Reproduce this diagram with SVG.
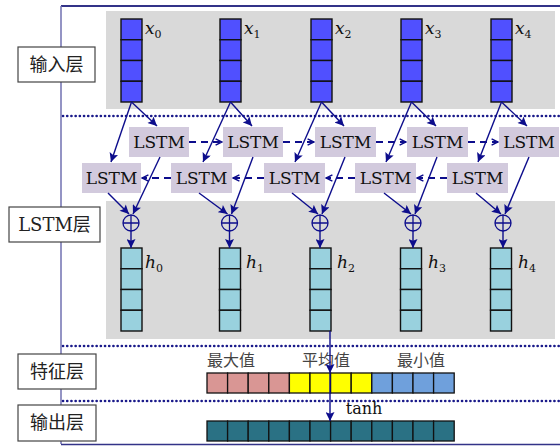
<svg xmlns="http://www.w3.org/2000/svg" width="560" height="446" viewBox="0 0 560 446">
<defs>
<style>
.panel{fill:#d9d9d9}
.xin{fill:#5050ff;stroke:#111;stroke-width:1.4}
.hc{fill:#99d1de;stroke:#111;stroke-width:1.4}
.lstm{fill:#d2cadd}
.lt{font-family:'DejaVu Serif',serif;font-size:17px;fill:#111;text-anchor:middle}
.var{font-family:'DejaVu Serif',serif;font-style:italic;font-size:17px;fill:#111}
.sub{font-size:11px;font-style:normal}
.lab{fill:#fff;stroke:#444;stroke-width:1.2}
.labt{font-family:'DejaVu Serif','Noto Sans CJK SC',serif;font-size:18px;fill:#222;text-anchor:middle}
.ft{font-family:'Noto Sans CJK SC',sans-serif;font-size:16px;fill:#444}
.dot{stroke:#1a1a8a;stroke-width:2.6;stroke-dasharray:0.1 4.1;stroke-linecap:round;fill:none}
.arr{stroke:#0d0d8c;stroke-width:1.4;fill:none;marker-end:url(#ah)}
.dash{stroke:#0d0d8c;stroke-width:2;stroke-dasharray:7 5;fill:none;marker-end:url(#ch)}
.circ{fill:none;stroke:#0d0d8c;stroke-width:1.3}
.cell{stroke:#111;stroke-width:1.3}
</style>
<marker id="ah" viewBox="0 0 10 10" refX="10" refY="5" markerWidth="10" markerHeight="9" markerUnits="userSpaceOnUse" orient="auto"><path d="M0,0 L10,5 L0,10 L2,5 z" fill="#0d0d8c"/></marker>
<marker id="ch" viewBox="0 0 10 10" refX="9" refY="5" markerWidth="8" markerHeight="9" markerUnits="userSpaceOnUse" orient="auto"><path d="M1,1 L9,5 L1,9" fill="none" stroke="#0d0d8c" stroke-width="1.8"/></marker>
</defs>
<rect width="560" height="446" fill="#fff"/>
<!-- frame -->
<g id="frame">
<line x1="61" y1="6" x2="560" y2="6" stroke="#333388" stroke-width="2"/>
<line x1="61" y1="6" x2="61" y2="444" stroke="#7070b0" stroke-width="1.5"/>
<line x1="61" y1="444.5" x2="560" y2="444.5" stroke="#333388" stroke-width="1.5"/>
<rect class="panel" x="106" y="11" width="449" height="98"/>
<rect class="panel" x="106" y="201" width="449" height="138"/>
<line class="dot" x1="63" y1="116" x2="560" y2="116"/>
<line class="dot" x1="63" y1="346" x2="560" y2="346"/>
<line class="dot" x1="63" y1="401" x2="560" y2="401"/>
</g>
<!-- layer labels -->
<g id="label-input"><rect class="lab" x="18" y="47" width="77" height="35"/><text class="labt" x="56.5" y="71">输入层</text></g>
<g id="label-lstm"><rect class="lab" x="9" y="207" width="91" height="35"/><text class="labt" x="54.5" y="231">LSTM层</text></g>
<g id="label-feature"><rect class="lab" x="18" y="354" width="78" height="35"/><text class="labt" x="57" y="378">特征层</text></g>
<g id="label-output"><rect class="lab" x="18" y="405" width="78" height="36"/><text class="labt" x="57" y="429">输出层</text></g>
<!-- inputs -->
<g id="x0"><rect class="xin" x="121" y="19" width="21" height="20.75"/><rect class="xin" x="121" y="39.75" width="21" height="20.75"/><rect class="xin" x="121" y="60.5" width="21" height="20.75"/><rect class="xin" x="121" y="81.25" width="21" height="20.75"/><text class="var" x="145" y="34">x<tspan class="sub" dy="4">0</tspan></text></g>
<g id="x1"><rect class="xin" x="220" y="19" width="21" height="20.75"/><rect class="xin" x="220" y="39.75" width="21" height="20.75"/><rect class="xin" x="220" y="60.5" width="21" height="20.75"/><rect class="xin" x="220" y="81.25" width="21" height="20.75"/><text class="var" x="244" y="34">x<tspan class="sub" dy="4">1</tspan></text></g>
<g id="x2"><rect class="xin" x="311" y="19" width="21" height="20.75"/><rect class="xin" x="311" y="39.75" width="21" height="20.75"/><rect class="xin" x="311" y="60.5" width="21" height="20.75"/><rect class="xin" x="311" y="81.25" width="21" height="20.75"/><text class="var" x="335" y="34">x<tspan class="sub" dy="4">2</tspan></text></g>
<g id="x3"><rect class="xin" x="401" y="19" width="21" height="20.75"/><rect class="xin" x="401" y="39.75" width="21" height="20.75"/><rect class="xin" x="401" y="60.5" width="21" height="20.75"/><rect class="xin" x="401" y="81.25" width="21" height="20.75"/><text class="var" x="425" y="34">x<tspan class="sub" dy="4">3</tspan></text></g>
<g id="x4"><rect class="xin" x="491" y="19" width="21" height="20.75"/><rect class="xin" x="491" y="39.75" width="21" height="20.75"/><rect class="xin" x="491" y="60.5" width="21" height="20.75"/><rect class="xin" x="491" y="81.25" width="21" height="20.75"/><text class="var" x="515" y="34">x<tspan class="sub" dy="4">4</tspan></text></g>
<!-- LSTM forward row -->
<g id="lstm-f0"><rect class="lstm" x="129" y="127" width="60" height="30"/><text class="lt" x="159" y="148">LSTM</text></g>
<g id="lstm-f1"><rect class="lstm" x="223" y="127" width="60" height="30"/><text class="lt" x="253" y="148">LSTM</text></g>
<g id="lstm-f2"><rect class="lstm" x="315" y="127" width="61" height="30"/><text class="lt" x="345.5" y="148">LSTM</text></g>
<g id="lstm-f3"><rect class="lstm" x="407" y="127" width="61" height="30"/><text class="lt" x="437.5" y="148">LSTM</text></g>
<g id="lstm-f4"><rect class="lstm" x="499" y="127" width="60" height="30"/><text class="lt" x="529" y="148">LSTM</text></g>
<!-- LSTM backward row -->
<g id="lstm-b0"><rect class="lstm" x="82" y="163" width="59" height="30"/><text class="lt" x="111.5" y="184">LSTM</text></g>
<g id="lstm-b1"><rect class="lstm" x="171" y="163" width="61" height="30"/><text class="lt" x="201.5" y="184">LSTM</text></g>
<g id="lstm-b2"><rect class="lstm" x="264" y="163" width="61" height="30"/><text class="lt" x="294.5" y="184">LSTM</text></g>
<g id="lstm-b3"><rect class="lstm" x="355" y="163" width="61" height="30"/><text class="lt" x="385.5" y="184">LSTM</text></g>
<g id="lstm-b4"><rect class="lstm" x="447" y="163" width="61" height="30"/><text class="lt" x="477.5" y="184">LSTM</text></g>
<!-- sum nodes -->
<g id="sum0"><circle class="circ" cx="131" cy="223" r="8"/><path class="circ" d="M123,223 H139 M131,215 V231"/></g>
<g id="sum1"><circle class="circ" cx="229.5" cy="223" r="8"/><path class="circ" d="M221.5,223 H237.5 M229.5,215 V231"/></g>
<g id="sum2"><circle class="circ" cx="320" cy="223" r="8"/><path class="circ" d="M312,223 H328 M320,215 V231"/></g>
<g id="sum3"><circle class="circ" cx="413" cy="223" r="8"/><path class="circ" d="M405,223 H421 M413,215 V231"/></g>
<g id="sum4"><circle class="circ" cx="503" cy="223" r="8"/><path class="circ" d="M495,223 H511 M503,215 V231"/></g>
<!-- hidden outputs -->
<g id="h0"><rect class="hc" x="121" y="248" width="21" height="20.75"/><rect class="hc" x="121" y="268.75" width="21" height="20.75"/><rect class="hc" x="121" y="289.5" width="21" height="20.75"/><rect class="hc" x="121" y="310.25" width="21" height="20.75"/><text class="var" x="145" y="268">h<tspan class="sub" dy="4">0</tspan></text></g>
<g id="h1"><rect class="hc" x="219.5" y="248" width="21" height="20.75"/><rect class="hc" x="219.5" y="268.75" width="21" height="20.75"/><rect class="hc" x="219.5" y="289.5" width="21" height="20.75"/><rect class="hc" x="219.5" y="310.25" width="21" height="20.75"/><text class="var" x="246" y="268">h<tspan class="sub" dy="4">1</tspan></text></g>
<g id="h2"><rect class="hc" x="310" y="248" width="21" height="20.75"/><rect class="hc" x="310" y="268.75" width="21" height="20.75"/><rect class="hc" x="310" y="289.5" width="21" height="20.75"/><rect class="hc" x="310" y="310.25" width="21" height="20.75"/><text class="var" x="337" y="268">h<tspan class="sub" dy="4">2</tspan></text></g>
<g id="h3"><rect class="hc" x="400.5" y="248" width="21" height="20.75"/><rect class="hc" x="400.5" y="268.75" width="21" height="20.75"/><rect class="hc" x="400.5" y="289.5" width="21" height="20.75"/><rect class="hc" x="400.5" y="310.25" width="21" height="20.75"/><text class="var" x="428" y="268">h<tspan class="sub" dy="4">3</tspan></text></g>
<g id="h4"><rect class="hc" x="490.5" y="248" width="21" height="20.75"/><rect class="hc" x="490.5" y="268.75" width="21" height="20.75"/><rect class="hc" x="490.5" y="289.5" width="21" height="20.75"/><rect class="hc" x="490.5" y="310.25" width="21" height="20.75"/><text class="var" x="518" y="268">h<tspan class="sub" dy="4">4</tspan></text></g>
<!-- feature layer -->
<g id="feature">
<text class="ft" x="207" y="366">最大值</text>
<text class="ft" x="302" y="366">平均值</text>
<text class="ft" x="397" y="366">最小值</text>
<g class="cell" fill="#d99694"><rect x="207" y="373" width="20.6" height="20"/><rect x="227.6" y="373" width="20.6" height="20"/><rect x="248.2" y="373" width="20.6" height="20"/><rect x="268.8" y="373" width="20.6" height="20"/></g>
<g class="cell" fill="#ffff00"><rect x="289.4" y="373" width="20.6" height="20"/><rect x="310" y="373" width="20.6" height="20"/><rect x="330.6" y="373" width="20.6" height="20"/><rect x="351.2" y="373" width="20.6" height="20"/></g>
<g class="cell" fill="#6fa0dc"><rect x="371.8" y="373" width="20.6" height="20"/><rect x="392.4" y="373" width="20.6" height="20"/><rect x="413" y="373" width="20.6" height="20"/><rect x="433.6" y="373" width="20.6" height="20"/></g>
</g>
<!-- output layer -->
<g id="output">
<text class="lt" x="364" y="414" style="font-size:16px">tanh</text>
<g class="cell" fill="#2a7184"><rect x="207" y="421" width="20.6" height="20"/><rect x="227.6" y="421" width="20.6" height="20"/><rect x="248.2" y="421" width="20.6" height="20"/><rect x="268.8" y="421" width="20.6" height="20"/><rect x="289.4" y="421" width="20.6" height="20"/><rect x="310" y="421" width="20.6" height="20"/><rect x="330.6" y="421" width="20.6" height="20"/><rect x="351.2" y="421" width="20.6" height="20"/><rect x="371.8" y="421" width="20.6" height="20"/><rect x="392.4" y="421" width="20.6" height="20"/><rect x="413" y="421" width="20.6" height="20"/><rect x="433.6" y="421" width="20.6" height="20"/></g>
</g>
<!-- connectors -->
<g id="connectors">
<path class="arr" d="M131.5,102 L157,126"/><path class="arr" d="M131.5,102 L111,162"/>
<path class="arr" d="M230.5,102 L252,126"/><path class="arr" d="M230.5,102 L203,162"/>
<path class="arr" d="M321.5,102 L344,126"/><path class="arr" d="M321.5,102 L295,162"/>
<path class="arr" d="M411.5,102 L436,126"/><path class="arr" d="M411.5,102 L386,162"/>
<path class="arr" d="M501.5,102 L527,126"/><path class="arr" d="M501.5,102 L478,162"/>
<path class="dash" d="M189,142 L222,142"/><path class="dash" d="M283,142 L314,142"/><path class="dash" d="M376,142 L406,142"/><path class="dash" d="M468,142 L498,142"/>
<path class="dash" d="M171,178 L142,178"/><path class="dash" d="M264,178 L233,178"/><path class="dash" d="M355,178 L326,178"/><path class="dash" d="M447,178 L417,178"/>
<path class="arr" d="M160,157 L133,214"/><path class="arr" d="M108,193 L129,214"/>
<path class="arr" d="M253,157 L231.5,214"/><path class="arr" d="M199,193 L227.5,214"/>
<path class="arr" d="M345,157 L322,214"/><path class="arr" d="M292,193 L318,214"/>
<path class="arr" d="M437,157 L415,214"/><path class="arr" d="M384,193 L411,214"/>
<path class="arr" d="M529,157 L505,214"/><path class="arr" d="M476,193 L501,214"/>
<path class="arr" d="M131,231 L131,248"/><path class="arr" d="M229.5,231 L229.5,248"/><path class="arr" d="M320,231 L320,248"/><path class="arr" d="M413,231 L413,248"/><path class="arr" d="M503,231 L503,248"/>
<path class="arr" d="M330,331 L330,373"/><path class="arr" d="M330,373 L330,421"/>
</g>
</svg>
